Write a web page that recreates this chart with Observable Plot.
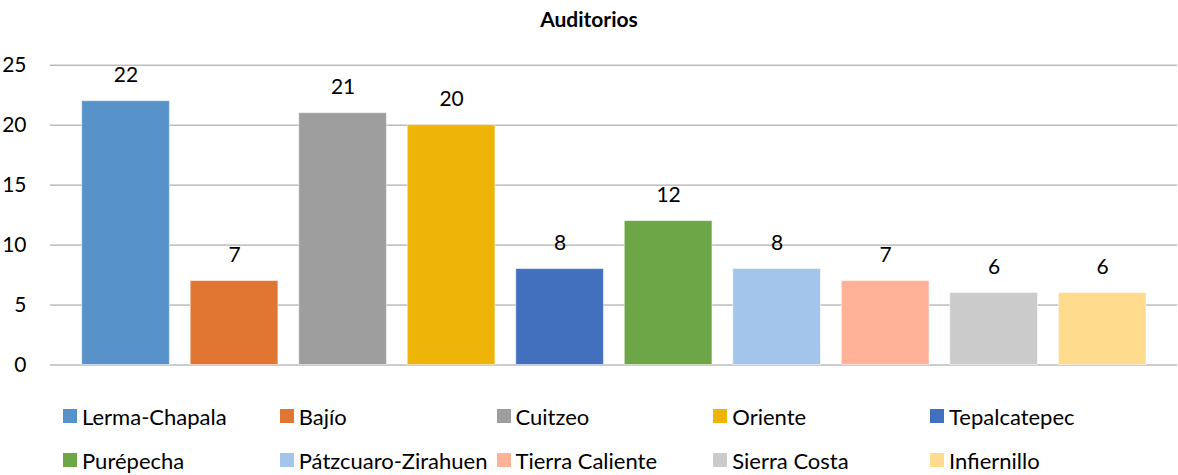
<!DOCTYPE html>
<html>
<head>
<meta charset="utf-8">
<script src="https://cdn.jsdelivr.net/npm/d3@7"></script>
<script src="https://cdn.jsdelivr.net/npm/@observablehq/plot@0.6"></script>
<style>
  body { margin: 0; background: #fff; font-family: Lato, "Open Sans", sans-serif; }
  #wrap { position: relative; width: 1178px; height: 475px; overflow: hidden; }
  #title { position: absolute; top: 0; left: 0; width: 1178px; height: 40px; line-height: 37px; text-align: center; font-weight: bold; font-size: 21px; color: #000; }
  #chart { position: absolute; top: 40px; left: 0; }
  #legend { position: absolute; top: 403px; left: 63px; width: 1100px; }
  .item { position: absolute; display: flex; align-items: center; font-size: 22px; color: #000; white-space: nowrap; height: 26px; }
  .sw { width: 14px; height: 14px; margin-right: 5px; flex: none; }
</style>
</head>
<body>
<div id="wrap">
  <div id="title">Auditorios</div>
  <div id="chart"></div>
  <div id="legend"></div>
</div>
<script>
const categories = ["Lerma-Chapala", "Bajío", "Cuitzeo", "Oriente", "Tepalcatepec", "Purépecha", "Pátzcuaro-Zirahuen", "Tierra Caliente", "Sierra Costa", "Infiernillo"];
const values = [22, 7, 21, 20, 8, 12, 8, 7, 6, 6];
const colors = ["#5793CA", "#E07631", "#9E9E9E", "#EEB508", "#4370BE", "#6CA646", "#A3C5EC", "#FFB297", "#CBCBCB", "#FFDB8D"];
const yTicks = [0, 5, 10, 15, 20, 25];

const data = categories.map((c, i) => ({category: c, value: values[i], color: colors[i]}));

const plot = Plot.plot({
  width: 1178,
  height: 350,
  marginLeft: 50,
  marginRight: 1,
  marginTop: 0,
  marginBottom: 0,
  style: {fontFamily: "Lato, 'Open Sans', sans-serif", fontSize: "21px", color: "#000", background: "#fff"},
  x: {domain: categories, insetLeft: 31.7, insetRight: 31, paddingInner: 0.192, paddingOuter: 0, round: false, axis: null},
  y: {domain: [0, 25], range: [324.5, 24.7], ticks: yTicks, label: null},
  marks: [
    Plot.ruleY(yTicks, {stroke: "#9a9a9a", strokeWidth: 1, strokeOpacity: 1}),
    Plot.axisY(yTicks, {tickSize: 0, tickPadding: 0, dx: -24, textAnchor: "end", fontSize: 21, fill: "#000", label: null}),
    Plot.barY(data, {x: "category", y: "value", fill: "color", stroke: "#fff", strokeOpacity: 0.5, strokeWidth: 1}),
    Plot.text(data, {x: "category", y: "value", text: d => String(d.value), dy: -26, fontSize: 21, fill: "#000"})
  ]
});
document.getElementById("chart").appendChild(plot);

const legend = document.getElementById("legend");
const colStep = 216.75;
categories.forEach((c, i) => {
  const row = Math.floor(i / 5), col = i % 5;
  const el = document.createElement("div");
  el.className = "item";
  el.style.left = (col * colStep) + "px";
  el.style.top = (row * 44) + "px";
  el.innerHTML = `<span class="sw" style="background:${colors[i]}"></span><span>${c}</span>`;
  legend.appendChild(el);
});
</script>
</body>
</html>
